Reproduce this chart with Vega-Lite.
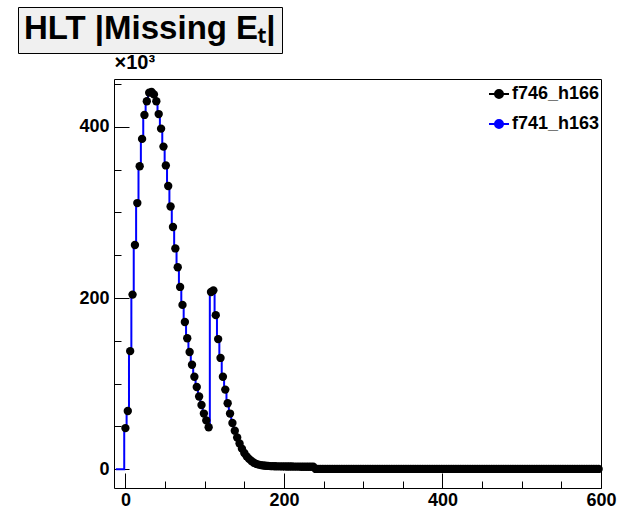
{
  "$schema": "https://vega.github.io/schema/vega-lite/v6.json",
  "width": 487,
  "height": 409,
  "autosize": {"type": "none"},
  "padding": {"left": 114, "top": 79, "right": 26, "bottom": 22},
  "background": "white",
  "config": {
    "view": {"stroke": "black", "strokeWidth": 1},
    "axis": {
      "domain": false,
      "grid": false,
      "tickColor": "black",
      "tickWidth": 1,
      "labelFont": "Liberation Sans",
      "labelFontWeight": "bold",
      "labelFontSize": 18,
      "labelColor": "black"
    }
  },
  "data": {
    "values": [
      {"x": -12, "h163": 0}, {"x": -9, "h163": 0}, {"x": -6, "h163": 0}, {"x": -3, "h163": 0},
      {"x": 0, "h166": 48, "h163": 48}, {"x": 3, "h166": 68, "h163": 68}, {"x": 6, "h166": 138, "h163": 138},
      {"x": 9, "h166": 204, "h163": 204}, {"x": 12, "h166": 262, "h163": 262}, {"x": 15, "h166": 311, "h163": 311},
      {"x": 18, "h166": 354, "h163": 354}, {"x": 21, "h166": 386, "h163": 386}, {"x": 24, "h166": 414, "h163": 414},
      {"x": 27, "h166": 430, "h163": 430}, {"x": 30, "h166": 440, "h163": 440}, {"x": 33, "h166": 441, "h163": 441},
      {"x": 36, "h166": 438, "h163": 438}, {"x": 39, "h166": 430, "h163": 430}, {"x": 42, "h166": 415, "h163": 415},
      {"x": 45, "h166": 398, "h163": 398}, {"x": 48, "h166": 377, "h163": 377}, {"x": 51, "h166": 355, "h163": 355},
      {"x": 54, "h166": 331, "h163": 331}, {"x": 57, "h166": 307, "h163": 307}, {"x": 60, "h166": 283, "h163": 283},
      {"x": 63, "h166": 258, "h163": 258}, {"x": 66, "h166": 236, "h163": 236}, {"x": 69, "h166": 213, "h163": 213},
      {"x": 72, "h166": 192, "h163": 192}, {"x": 75, "h166": 172, "h163": 172}, {"x": 78, "h166": 153, "h163": 153},
      {"x": 81, "h166": 137, "h163": 137}, {"x": 84, "h166": 122, "h163": 122}, {"x": 87, "h166": 108, "h163": 108},
      {"x": 90, "h166": 96, "h163": 96}, {"x": 93, "h166": 85, "h163": 85}, {"x": 96, "h166": 75, "h163": 75},
      {"x": 99, "h166": 65, "h163": 65}, {"x": 102, "h166": 57, "h163": 57}, {"x": 105, "h166": 49, "h163": 49},
      {"x": 108, "h166": 207, "h163": 207}, {"x": 111, "h166": 209, "h163": 209}, {"x": 114, "h166": 180, "h163": 180},
      {"x": 117, "h166": 152, "h163": 152}, {"x": 120, "h166": 130, "h163": 130}, {"x": 123, "h166": 108, "h163": 108},
      {"x": 126, "h166": 93, "h163": 93}, {"x": 129, "h166": 77, "h163": 77}, {"x": 132, "h166": 65, "h163": 65},
      {"x": 135, "h166": 54, "h163": 54}, {"x": 138, "h166": 45, "h163": 45}, {"x": 141, "h166": 37, "h163": 37},
      {"x": 144, "h166": 30, "h163": 30}, {"x": 147, "h166": 24, "h163": 24}, {"x": 150, "h166": 19, "h163": 19},
      {"x": 153, "h166": 15, "h163": 15}, {"x": 156, "h166": 12, "h163": 12}, {"x": 159, "h166": 9.5, "h163": 9.5},
      {"x": 162, "h166": 7.5, "h163": 7.5}, {"x": 165, "h166": 6.2, "h163": 6.2}, {"x": 168, "h166": 5.3, "h163": 5.3},
      {"x": 171, "h166": 4.7, "h163": 4.7}, {"x": 174, "h166": 4.3, "h163": 4.3}, {"x": 177, "h166": 4.0, "h163": 4.0},
      {"x": 180, "h166": 3.8, "h163": 3.8}, {"x": 183, "h166": 3.6, "h163": 3.6}, {"x": 186, "h166": 3.5, "h163": 3.5},
      {"x": 189, "h166": 3.4, "h163": 3.4}, {"x": 192, "h166": 3.3, "h163": 3.3}, {"x": 195, "h166": 3.3, "h163": 3.3},
      {"x": 198, "h166": 3.2, "h163": 3.2}, {"x": 201, "h166": 3.2, "h163": 3.2}, {"x": 204, "h166": 3.1, "h163": 3.1},
      {"x": 207, "h166": 3.1, "h163": 3.1}, {"x": 210, "h166": 3.1, "h163": 3.1}, {"x": 213, "h166": 3.0, "h163": 3.0},
      {"x": 216, "h166": 3.0, "h163": 3.0}, {"x": 219, "h166": 3.0, "h163": 3.0}, {"x": 222, "h166": 2.9, "h163": 2.9},
      {"x": 225, "h166": 2.9, "h163": 2.9}, {"x": 228, "h166": 2.9, "h163": 2.9}, {"x": 231, "h166": 2.8, "h163": 2.8},
      {"x": 234, "h166": 2.8, "h163": 2.8}, {"x": 237, "h166": 2.8, "h163": 2.8},
      {"x": 240, "h166": 0.3, "h163": 0.3}, {"x": 243, "h166": 0.3, "h163": 0.3}, {"x": 246, "h166": 0.3, "h163": 0.3},
      {"x": 249, "h166": 0.3, "h163": 0.3}, {"x": 252, "h166": 0.3, "h163": 0.3}, {"x": 255, "h166": 0.3, "h163": 0.3},
      {"x": 258, "h166": 0.3, "h163": 0.3}, {"x": 261, "h166": 0.3, "h163": 0.3}, {"x": 264, "h166": 0.3, "h163": 0.3},
      {"x": 267, "h166": 0.3, "h163": 0.3}, {"x": 270, "h166": 0.3, "h163": 0.3}, {"x": 273, "h166": 0.3, "h163": 0.3},
      {"x": 276, "h166": 0.3, "h163": 0.3}, {"x": 279, "h166": 0.3, "h163": 0.3}, {"x": 282, "h166": 0.3, "h163": 0.3},
      {"x": 285, "h166": 0.3, "h163": 0.3}, {"x": 288, "h166": 0.3, "h163": 0.3}, {"x": 291, "h166": 0.3, "h163": 0.3},
      {"x": 294, "h166": 0.3, "h163": 0.3}, {"x": 297, "h166": 0.3, "h163": 0.3}, {"x": 300, "h166": 0.3, "h163": 0.3},
      {"x": 303, "h166": 0.3, "h163": 0.3}, {"x": 306, "h166": 0.3, "h163": 0.3}, {"x": 309, "h166": 0.3, "h163": 0.3},
      {"x": 312, "h166": 0.3, "h163": 0.3}, {"x": 315, "h166": 0.3, "h163": 0.3}, {"x": 318, "h166": 0.3, "h163": 0.3},
      {"x": 321, "h166": 0.3, "h163": 0.3}, {"x": 324, "h166": 0.3, "h163": 0.3}, {"x": 327, "h166": 0.3, "h163": 0.3},
      {"x": 330, "h166": 0.3, "h163": 0.3}, {"x": 333, "h166": 0.3, "h163": 0.3}, {"x": 336, "h166": 0.3, "h163": 0.3},
      {"x": 339, "h166": 0.3, "h163": 0.3}, {"x": 342, "h166": 0.3, "h163": 0.3}, {"x": 345, "h166": 0.3, "h163": 0.3},
      {"x": 348, "h166": 0.3, "h163": 0.3}, {"x": 351, "h166": 0.3, "h163": 0.3}, {"x": 354, "h166": 0.3, "h163": 0.3},
      {"x": 357, "h166": 0.3, "h163": 0.3}, {"x": 360, "h166": 0.3, "h163": 0.3}, {"x": 363, "h166": 0.3, "h163": 0.3},
      {"x": 366, "h166": 0.3, "h163": 0.3}, {"x": 369, "h166": 0.3, "h163": 0.3}, {"x": 372, "h166": 0.3, "h163": 0.3},
      {"x": 375, "h166": 0.3, "h163": 0.3}, {"x": 378, "h166": 0.3, "h163": 0.3}, {"x": 381, "h166": 0.3, "h163": 0.3},
      {"x": 384, "h166": 0.3, "h163": 0.3}, {"x": 387, "h166": 0.3, "h163": 0.3}, {"x": 390, "h166": 0.3, "h163": 0.3},
      {"x": 393, "h166": 0.3, "h163": 0.3}, {"x": 396, "h166": 0.3, "h163": 0.3}, {"x": 399, "h166": 0.3, "h163": 0.3},
      {"x": 402, "h166": 0.3, "h163": 0.3}, {"x": 405, "h166": 0.3, "h163": 0.3}, {"x": 408, "h166": 0.3, "h163": 0.3},
      {"x": 411, "h166": 0.3, "h163": 0.3}, {"x": 414, "h166": 0.3, "h163": 0.3}, {"x": 417, "h166": 0.3, "h163": 0.3},
      {"x": 420, "h166": 0.3, "h163": 0.3}, {"x": 423, "h166": 0.3, "h163": 0.3}, {"x": 426, "h166": 0.3, "h163": 0.3},
      {"x": 429, "h166": 0.3, "h163": 0.3}, {"x": 432, "h166": 0.3, "h163": 0.3}, {"x": 435, "h166": 0.3, "h163": 0.3},
      {"x": 438, "h166": 0.3, "h163": 0.3}, {"x": 441, "h166": 0.3, "h163": 0.3}, {"x": 444, "h166": 0.3, "h163": 0.3},
      {"x": 447, "h166": 0.3, "h163": 0.3}, {"x": 450, "h166": 0.3, "h163": 0.3}, {"x": 453, "h166": 0.3, "h163": 0.3},
      {"x": 456, "h166": 0.3, "h163": 0.3}, {"x": 459, "h166": 0.3, "h163": 0.3}, {"x": 462, "h166": 0.3, "h163": 0.3},
      {"x": 465, "h166": 0.3, "h163": 0.3}, {"x": 468, "h166": 0.3, "h163": 0.3}, {"x": 471, "h166": 0.3, "h163": 0.3},
      {"x": 474, "h166": 0.3, "h163": 0.3}, {"x": 477, "h166": 0.3, "h163": 0.3}, {"x": 480, "h166": 0.3, "h163": 0.3},
      {"x": 483, "h166": 0.3, "h163": 0.3}, {"x": 486, "h166": 0.3, "h163": 0.3}, {"x": 489, "h166": 0.3, "h163": 0.3},
      {"x": 492, "h166": 0.3, "h163": 0.3}, {"x": 495, "h166": 0.3, "h163": 0.3}, {"x": 498, "h166": 0.3, "h163": 0.3},
      {"x": 501, "h166": 0.3, "h163": 0.3}, {"x": 504, "h166": 0.3, "h163": 0.3}, {"x": 507, "h166": 0.3, "h163": 0.3},
      {"x": 510, "h166": 0.3, "h163": 0.3}, {"x": 513, "h166": 0.3, "h163": 0.3}, {"x": 516, "h166": 0.3, "h163": 0.3},
      {"x": 519, "h166": 0.3, "h163": 0.3}, {"x": 522, "h166": 0.3, "h163": 0.3}, {"x": 525, "h166": 0.3, "h163": 0.3},
      {"x": 528, "h166": 0.3, "h163": 0.3}, {"x": 531, "h166": 0.3, "h163": 0.3}, {"x": 534, "h166": 0.3, "h163": 0.3},
      {"x": 537, "h166": 0.3, "h163": 0.3}, {"x": 540, "h166": 0.3, "h163": 0.3}, {"x": 543, "h166": 0.3, "h163": 0.3},
      {"x": 546, "h166": 0.3, "h163": 0.3}, {"x": 549, "h166": 0.3, "h163": 0.3}, {"x": 552, "h166": 0.3, "h163": 0.3},
      {"x": 555, "h166": 0.3, "h163": 0.3}, {"x": 558, "h166": 0.3, "h163": 0.3}, {"x": 561, "h166": 0.3, "h163": 0.3},
      {"x": 564, "h166": 0.3, "h163": 0.3}, {"x": 567, "h166": 0.3, "h163": 0.3}, {"x": 570, "h166": 0.3, "h163": 0.3},
      {"x": 573, "h166": 0.3, "h163": 0.3}, {"x": 576, "h166": 0.3, "h163": 0.3}, {"x": 579, "h166": 0.3, "h163": 0.3},
      {"x": 582, "h166": 0.3, "h163": 0.3}, {"x": 585, "h166": 0.3, "h163": 0.3}, {"x": 588, "h166": 0.3, "h163": 0.3},
      {"x": 591, "h166": 0.3, "h163": 0.3}, {"x": 594, "h166": 0.3, "h163": 0.3}, {"x": 597, "h166": 0.3, "h163": 0.3}
    ]
  },
  "encoding": {
    "x": {
      "field": "x",
      "type": "quantitative",
      "scale": {"domain": [-14.4, 600], "nice": false, "zero": false},
      "axis": {
        "title": null,
        "values": [0, 50, 100, 150, 200, 250, 300, 350, 400, 450, 500, 550, 600],
        "tickSize": {"condition": {"test": "datum.value % 200 === 0", "value": -15}, "value": -7},
        "labelExpr": "datum.value % 200 === 0 ? datum.label : ''",
        "labelPadding": 18,
        "labelFlush": false
      }
    }
  },
  "layer": [
    {
      "mark": {"type": "line", "interpolate": "step", "strokeWidth": 2},
      "encoding": {
        "y": {
          "field": "h163",
          "type": "quantitative",
          "scale": {"domain": [-22, 456], "nice": false, "zero": false},
          "axis": {
            "title": "\u00d710\u00b3",
            "titleAngle": 0,
            "titleX": 0,
            "titleY": -11,
            "titleAlign": "left",
            "titleBaseline": "alphabetic",
            "titleFont": "Liberation Sans",
            "titleFontSize": 20,
            "titleFontWeight": "bold",
            "titleColor": "black",
            "values": [0, 50, 100, 150, 200, 250, 300, 350, 400, 450],
            "tickSize": {"condition": {"test": "datum.value % 200 === 0", "value": -15}, "value": -7},
            "labelExpr": "datum.value % 200 === 0 ? datum.label : ''",
            "labelPadding": 20
          }
        },
        "color": {
          "datum": "f741_h163",
          "type": "nominal",
          "scale": {"domain": ["f746_h166", "f741_h163"], "range": ["black", "#0000ff"]},
          "legend": {
            "title": null,
            "orient": "none",
            "legendX": 374,
            "legendY": 4,
            "labelFont": "Liberation Sans",
            "labelFontWeight": "bold",
            "labelFontSize": 18,
            "labelColor": "black",
            "symbolType": "M-1,0H1M-0.4,0a0.4,0.4 0 1,0 0.8,0a0.4,0.4 0 1,0 -0.8,0",
            "symbolSize": 400,
            "symbolStrokeWidth": 2,
            "rowPadding": 10,
            "labelOffset": 2
          }
        }
      }
    },
    {
      "transform": [{"filter": "isValid(datum.h166)"}],
      "mark": {"type": "point", "filled": true, "size": 70, "opacity": 1},
      "encoding": {
        "y": {"field": "h166", "type": "quantitative"},
        "color": {"datum": "f746_h166", "type": "nominal"},
        "shape": {
          "datum": "title",
          "type": "nominal",
          "scale": {"domain": ["title"], "range": ["circle"]},
          "legend": {
            "title": "HLT |Missing E\u209c|",
            "orient": "none",
            "legendX": -96,
            "legendY": -72,
            "titleFont": "Liberation Sans",
            "titleFontSize": 33,
            "titleFontWeight": "bold",
            "titleColor": "black",
            "titleLimit": 500,
            "titlePadding": 0,
            "padding": 6,
            "fillColor": "#f0f0f0",
            "strokeColor": "black",
            "labelExpr": "''",
            "labelFontSize": 1,
            "symbolSize": 1,
            "symbolOpacity": 0,
            "symbolStrokeWidth": 0,
            "rowPadding": 0
          }
        }
      }
    }
  ]
}
